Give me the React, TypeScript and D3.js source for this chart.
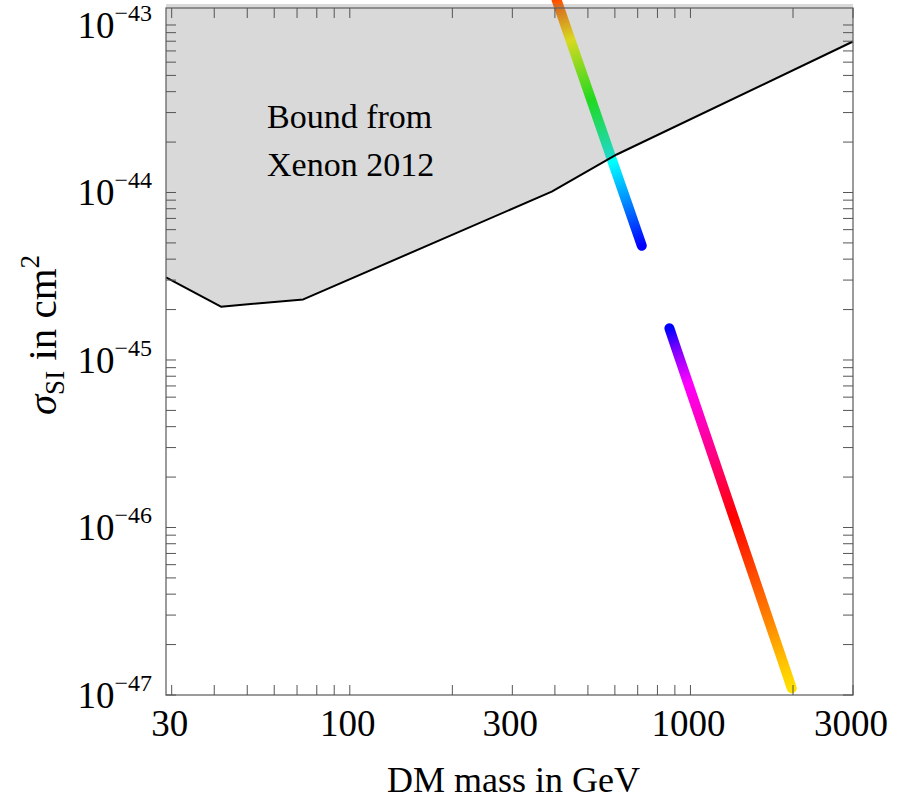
import React from "react";
import * as d3 from "d3";

// ---- data ----
const xenonMass = [28.87, 41.85, 73.0, 391.5, 607.6, 3000];
const xenonSigma = [3.11e-45, 2.08e-45, 2.3e-45, 1.011e-44, 1.686e-44, 7.97e-44];
const fillTopSigma = 1.334e-43;

const upperMass = [404.6, 444.2, 511.3, 591.4, 646.6, 719.5];
const upperSigma = [1.41e-43, 8.14e-44, 3.57e-44, 1.52e-44, 9.02e-45, 4.81e-45];
const upperHue = [0.05, 0.167, 0.333, 0.5, 0.573, 0.667];

const lowerMass = [867.5, 911.3, 983.2, 1174, 1338, 1536, 1684, 1859, 1983];
const lowerSigma = [1.546e-45, 1.147e-45, 7.29e-46, 2.53e-46, 1.156e-46, 5.07e-47, 2.92e-47, 1.62e-47, 1.096e-47];
const lowerHue = [0.667, 0.75, 0.833, 0.92, 1.0, 1.05, 1.083, 1.125, 1.147];

const xTickLabels = [30, 100, 300, 1000, 3000];
const xTickMinor = [40, 50, 60, 70, 80, 90, 200, 400, 500, 600, 700, 800, 900, 2000];
const yExponents = [-47, -46, -45, -44, -43];
const yMinorFactors = [2, 3, 4, 5, 6, 7, 8, 9];

const W = 907;
const H = 802;
const L = 166, R = 853, T = 8, B = 695;
const FONT = "'Liberation Serif', 'Times New Roman', serif";

const x = d3.scaleLog().domain([28.87, 3000]).range([L, R]);
const y = d3.scaleLog().domain([1e-47, 1.263e-43]).range([B, T]);

const hueColor = (h: number) => d3.hsl((h % 1) * 360, 1, 0.5).toString();

function Branch({ id, mass, sigma, hue }: { id: string; mass: number[]; sigma: number[]; hue: number[] }) {
  const pts = mass.map((m, i) => [x(m), y(sigma[i])] as [number, number]);
  const [x1, y1] = pts[0];
  const [x2, y2] = pts[pts.length - 1];
  const dx = x2 - x1, dy = y2 - y1;
  const len2 = dx * dx + dy * dy;
  const line = d3.line<[number, number]>()(pts) || "";
  return (
    <g>
      <defs>
        <linearGradient id={id} gradientUnits="userSpaceOnUse" x1={x1} y1={y1} x2={x2} y2={y2}>
          {pts.map((p, i) => {
            const t = ((p[0] - x1) * dx + (p[1] - y1) * dy) / len2;
            return <stop key={i} offset={Math.max(0, Math.min(1, t))} stopColor={hueColor(hue[i])} />;
          })}
        </linearGradient>
      </defs>
      <path d={line} fill="none" stroke={`url(#${id})`} strokeWidth={10} strokeLinecap="round" />
    </g>
  );
}

export default function App() {
  const boundary = xenonMass.map((m, i) => [x(m), y(xenonSigma[i])] as [number, number]);
  const boundaryPath = d3.line<[number, number]>()(boundary) || "";
  const fillPts: [number, number][] = [
    ...boundary,
    [boundary[boundary.length - 1][0], y(fillTopSigma)],
    [boundary[0][0], y(fillTopSigma)],
  ];
  const fillPath = (d3.line<[number, number]>()(fillPts) || "") + "Z";

  const yMajor = yExponents.map((e) => Math.pow(10, e));
  const yMinor: number[] = [];
  yExponents.slice(0, -1).forEach((e) => yMinorFactors.forEach((f) => yMinor.push(f * Math.pow(10, e))));
  const yTicks = [...yMajor, ...yMinor];
  const xTicks = [...xTickLabels, ...xTickMinor];
  const tickLen = 10;
  const tickColor = "#555";

  return (
    <svg width={W} height={H} style={{ position: "absolute", left: 0, top: 0 }} fontFamily={FONT}>
      <rect x={0} y={0} width={W} height={H} fill="white" />
      <Branch id="gUpper" mass={upperMass} sigma={upperSigma} hue={upperHue} />
      <Branch id="gLower" mass={lowerMass} sigma={lowerSigma} hue={lowerHue} />
      <path d={fillPath} fill="rgb(116,116,116)" fillOpacity={0.275} stroke="none" />
      <path d={boundaryPath} fill="none" stroke="black" strokeWidth={2} strokeLinejoin="round" />

      {/* frame */}
      <rect x={L} y={T} width={R - L} height={B - T} fill="none" stroke="#666" strokeWidth={1.3} />

      {/* ticks */}
      {xTicks.map((v, i) => (
        <g key={"xt" + i} stroke={tickColor} strokeWidth={1}>
          <line x1={x(v)} x2={x(v)} y1={B} y2={B - tickLen} />
          <line x1={x(v)} x2={x(v)} y1={T} y2={T + tickLen} />
        </g>
      ))}
      {yTicks.map((v, i) => (
        <g key={"yt" + i} stroke={tickColor} strokeWidth={1}>
          <line x1={L} x2={L + tickLen} y1={y(v)} y2={y(v)} />
          <line x1={R} x2={R - tickLen} y1={y(v)} y2={y(v)} />
        </g>
      ))}

      {/* x tick labels */}
      {xTickLabels.map((v) => (
        <text key={"xl" + v} x={x(v) - 2} y={736} fontSize={37} textAnchor="middle" fill="black">
          {v}
        </text>
      ))}

      {/* y tick labels */}
      {yExponents.map((e) => (
        <text key={"yl" + e} x={152} y={y(Math.pow(10, e)) + 13} fontSize={37} textAnchor="end" fill="black">
          10
          <tspan fontSize={24} dy={-17}>{"\u2212" + Math.abs(e)}</tspan>
        </text>
      ))}

      {/* axis titles */}
      <text x={(L + R) / 2 + 4} y={792} fontSize={36} textAnchor="middle" fill="black">
        DM mass in GeV
      </text>
      <text transform={`translate(56,335) rotate(-90)`} fontSize={41} textAnchor="middle" fill="black">
        <tspan fontStyle="italic">σ</tspan>
        <tspan fontSize={27} dy={8}>SI</tspan>
        <tspan dy={-8}> in cm</tspan>
        <tspan fontSize={27} dy={-17}>2</tspan>
      </text>

      {/* annotation */}
      <text x={267} y={128} fontSize={34} fill="black">Bound from</text>
      <text x={267} y={176} fontSize={34} fill="black">Xenon 2012</text>
    </svg>
  );
}
